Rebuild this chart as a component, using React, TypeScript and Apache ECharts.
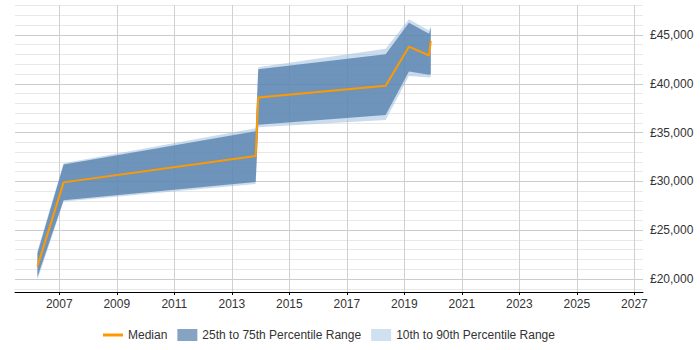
import React, { useEffect, useRef } from "react";
import * as echarts from "echarts";

const years = [2006.24, 2007.15, 2013.83, 2013.92, 2018.35, 2019.16, 2019.86, 2019.92];
const median = [21300, 29900, 32600, 38600, 39800, 43800, 42900, 44400];
const p10 = [19900, 27950, 29730, 35550, 36300, 40800, 40640, 40700];
const p25 = [20200, 28060, 29930, 35800, 36800, 41260, 40920, 41000];
const p75 = [22650, 31730, 35130, 41500, 43030, 46260, 45130, 45750];
const p90 = [22860, 31850, 35440, 41700, 43600, 46600, 45470, 45900];

const xTicks = [2007, 2009, 2011, 2013, 2015, 2017, 2019, 2021, 2023, 2025, 2027];
const yMajorTicks = [20000, 25000, 30000, 35000, 40000, 45000];
const yMinorTicks = [19000, 21000, 22000, 23000, 24000, 26000, 27000, 28000, 29000, 31000, 32000, 33000, 34000, 36000, 37000, 38000, 39000, 41000, 42000, 43000, 44000, 46000, 47000, 48000];

const DARK = "#507ca9";
const LIGHT = "#97b9dd";
const FONT = "Arial, 'Liberation Sans', sans-serif";

function bandSeries(name: string, low: number[], high: number[], color: string, opacity: number, z: number) {
  return {
    type: "custom",
    name,
    yAxisIndex: 1,
    z,
    silent: true,
    data: years.map((y, i) => [y, low[i], high[i]]),
    renderItem: (params: any, api: any) => {
      if (params.dataIndex !== 0) return null;
      const upper = years.map((y, i) => api.coord([y, high[i]]));
      const lower = years.map((y, i) => api.coord([y, low[i]])).reverse();
      return {
        type: "polygon",
        shape: { points: upper.concat(lower) },
        style: { fill: color, opacity },
      };
    },
  };
}

export default function App() {
  const ref = useRef<HTMLDivElement>(null);
  useEffect(() => {
    if (!ref.current) return;
    document.body.style.margin = "0";
    const chart = echarts.init(ref.current, null, { renderer: "svg" });
    const pairs = (vals: number[]) => years.map((y, i) => [y, vals[i]]);
    chart.setOption({
      animation: false,
      textStyle: { fontFamily: FONT },
      grid: { left: 15, right: 57, top: 5, bottom: 58 },
      legend: {
        left: 103,
        top: 329,
        padding: 0,
        itemWidth: 20,
        itemHeight: 12,
        itemGap: 10,
        textStyle: { fontFamily: FONT, fontSize: 12, color: "#333" },
        data: [
          { name: "Median", icon: "path://M0,0 L20,0 L20,3 L0,3 Z", itemStyle: { color: "#ff9900" } },
          { name: "25th to 75th Percentile Range", icon: "rect", itemStyle: { color: "#87a3c4" } },
          { name: "10th to 90th Percentile Range", icon: "rect", itemStyle: { color: "#cfe0f0" } },
        ],
      },
      xAxis: {
        type: "value",
        min: 2005.46,
        max: 2027.3,
        axisLine: { show: true, lineStyle: { color: "#000", width: 1 } },
        axisTick: { show: true, length: 3, lineStyle: { color: "#000" }, customValues: xTicks },
        axisLabel: {
          customValues: xTicks,
          color: "#333",
          fontSize: 12,
          fontFamily: FONT,
          margin: 6,
          formatter: (v: number) => String(Math.round(v)),
        },
        splitLine: { show: true, lineStyle: { color: "#d0d0d0", width: 1 } },
      },
      yAxis: [
        {
          type: "value",
          position: "right",
          min: 18670,
          max: 48070,
          axisLine: { show: false },
          axisTick: { show: false, customValues: yMinorTicks },
          axisLabel: { show: false, customValues: yMinorTicks },
          splitLine: { show: true, lineStyle: { color: "#e8e8e8", width: 1 } },
        },
        {
          type: "value",
          position: "right",
          min: 18670,
          max: 48070,
          axisLine: { show: false },
          axisTick: { show: false, customValues: yMajorTicks },
          axisLabel: {
            customValues: yMajorTicks,
            color: "#333",
            fontSize: 12,
            fontFamily: FONT,
            margin: 7,
            formatter: (v: number) => "£" + Math.round(v).toLocaleString("en-GB"),
          },
          splitLine: { show: true, lineStyle: { color: "#cccccc", width: 1 } },
        },
      ],
      series: [
        bandSeries("10th to 90th Percentile Range", p10, p90, LIGHT, 0.5, 2),
        bandSeries("25th to 75th Percentile Range", p25, p75, DARK, 0.75, 3),
        {
          type: "line",
          name: "Median",
          yAxisIndex: 1,
          symbol: "none",
          showSymbol: false,
          color: "#ff9900",
          lineStyle: { color: "#ff9900", width: 2 },
          data: pairs(median),
          z: 5,
        },
      ],
    });
    return () => chart.dispose();
  }, []);
  return <div ref={ref} style={{ width: 700, height: 350 }} />;
}
